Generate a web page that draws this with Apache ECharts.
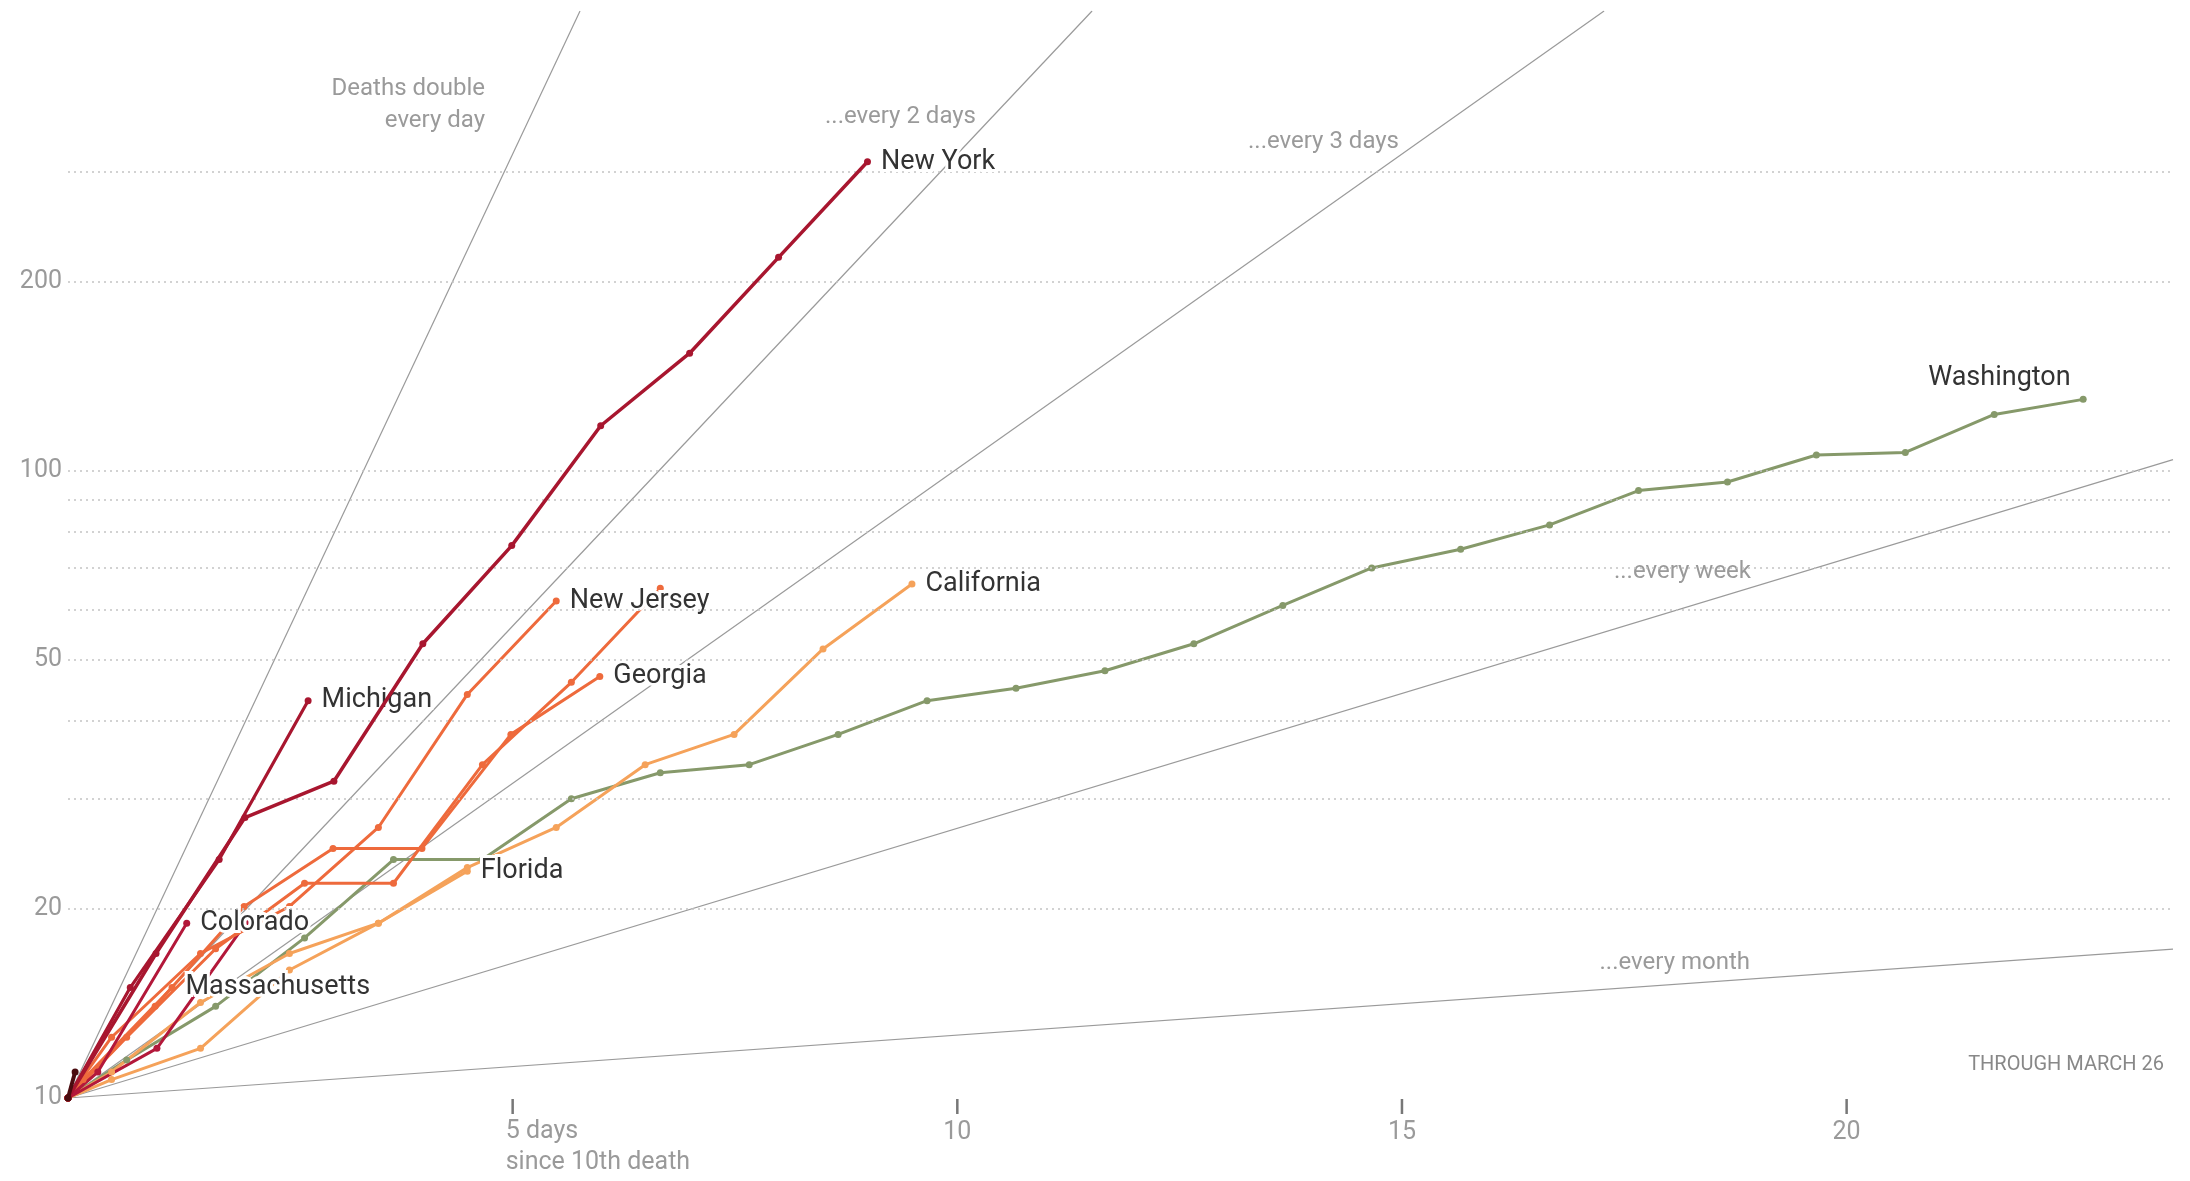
<!DOCTYPE html>
<html>
<head>
<meta charset="utf-8">
<script src="https://cdn.jsdelivr.net/npm/echarts@6/dist/echarts.min.js"></script>
<style>
html,body{margin:0;padding:0;background:#fff;}
#chart{width:2190px;height:1181px;}
</style>
</head>
<body>
<div id="chart"></div>
<script>
// ---------- axis / tick data ----------
const X_MAX = 23.67;            // days since 10th death shown
const Y_MIN = 10, Y_MAX = 541;  // deaths (log scale)
const yGridValues  = [20, 30, 40, 50, 60, 70, 80, 90, 100, 200, 300];
const yLabelValues = [10, 20, 50, 100, 200];
const xTickValues  = [5, 10, 15, 20];
const xLabelValues = [10, 15, 20];
const doublingDays   = [1, 2, 3, 7, 30];
const doublingLabels = ['Deaths double\nevery day', '...every 2 days', '...every 3 days', '...every week', '...every month'];
const noteText = 'THROUGH MARCH 26';
const firstAxisLabel = '5 days\nsince 10th death';

// ---------- state series: offset of first daily point (days) + daily deaths ----------
const newYorkOffset = 0.99;
const newYork       = [17, 28, 32, 53, 76, 118, 154, 219, 311];
const michiganOffset = 0.70;
const michigan       = [15, 24, 43];
const coloradoOffset = 0.335;
const colorado       = [11, 19];
const darkRedOtherOffset = 1.0;
const darkRedOther       = [12, 19];
const massachusettsOffset = 0.17;
const massachusetts       = [10.7, 15];
const newJerseyOffset = 0.49;
const newJersey       = [12.5, 17, 20.2, 27, 44, 62];
const georgiaOffset = 0.98;
const georgia       = [14, 20.2, 25, 25, 38, 47];
const orangeOtherOffset = 0.66;
const orangeOther       = [12.5, 17.3, 22, 22, 34, 46, 65];
const floridaOffset = 0.49;
const florida       = [10.7, 12, 16, 19, 23];
const californiaOffset = 0.49;
const california       = [11, 14.2, 17, 19, 23.3, 27, 34, 38, 52, 66];
const washingtonOffset = 0.66;
const washington       = [11.5, 14, 18, 24, 24, 30, 33, 34, 38, 43, 45, 48, 53, 61, 70, 75, 82, 93, 96, 106, 107, 123, 130];
const latestOffset = 0.08;
const latest       = [11];

// ---------- styles ----------
const FONT = 'Roboto, "Noto Sans", "Liberation Sans", sans-serif';
const C_CRIMSON = '#a8162f', C_CRIMSON2 = '#b3183a', C_DARK = '#4a0c10';
const C_ORANGE = '#ee6a3c', C_LIGHT = '#f5a25a', C_GREEN = '#86996a';
const GRAY = '#9a9a9a';

const chart = echarts.init(document.getElementById('chart'), null, {renderer: 'canvas'});

function stateSeries(name, offset, values, color, width, labelCfg, z) {
  const data = [[0, 10]].concat(values.map((v, i) => [offset + i, v]));
  if (labelCfg) {
    const last = data[data.length - 1];
    data[data.length - 1] = {
      value: last,
      label: Object.assign({
        show: true, formatter: name, color: '#333', fontSize: 27, fontFamily: FONT,
        textBorderColor: '#fff', textBorderWidth: 6, position: 'right', distance: 10
      }, labelCfg)
    };
  }
  return {
    type: 'line', name, data, z: z || 3, animation: false,
    symbol: 'circle', symbolSize: 7, showSymbol: true, showAllSymbol: true,
    lineStyle: {color, width}, itemStyle: {color},
    emphasis: {disabled: true}, silent: true
  };
}

// doubling reference lines (start at 10 deaths on day 0)
const refSeries = doublingDays.map((d, i) => {
  const xTop = d * Math.log2(Y_MAX / Y_MIN);
  const xEnd = Math.min(X_MAX, xTop);
  const yEnd = Y_MIN * Math.pow(2, xEnd / d);
  const s = {
    type: 'line', data: [[0, Y_MIN], [xEnd, yEnd]], symbol: 'none', z: 1,
    lineStyle: {color: GRAY, width: 1.2}, animation: false, silent: true
  };
  if (i === 0) {
    s.markLine = {
      silent: true, symbol: 'none', animation: false,
      lineStyle: {color: '#c4c4c4', type: [2, 4], width: 1.5},
      label: {show: false},
      data: yGridValues.map(v => ({yAxis: v}))
    };
  }
  return s;
});

const series = refSeries.concat([
  stateSeries('Washington', washingtonOffset, washington, C_GREEN, 3, {position: 'left', distance: 9, offset: [0, -21]}),
  stateSeries('California', californiaOffset, california, C_LIGHT, 3, {}),
  stateSeries('Florida', floridaOffset, florida, C_LIGHT, 3, {}),
  stateSeries('Orange other', orangeOtherOffset, orangeOther, C_ORANGE, 3, null),
  stateSeries('Georgia', georgiaOffset, georgia, C_ORANGE, 3, {}),
  stateSeries('New Jersey', newJerseyOffset, newJersey, C_ORANGE, 3, {}, 4),
  stateSeries('Massachusetts', massachusettsOffset, massachusetts, C_ORANGE, 3, {}, 4),
  stateSeries('Dark red other', darkRedOtherOffset, darkRedOther, C_CRIMSON2, 3, null),
  stateSeries('Colorado', coloradoOffset, colorado, C_CRIMSON2, 3, {}, 4),
  stateSeries('Michigan', michiganOffset, michigan, C_CRIMSON, 3.2, {}, 5),
  stateSeries('New York', newYorkOffset, newYork, C_CRIMSON, 3.5, {}, 6),
  stateSeries('Latest', latestOffset, latest, C_DARK, 4, null, 7)
]);

chart.setOption({
  backgroundColor: '#fff',
  animation: false,
  grid: {left: 68, right: 17, top: 11, bottom: 83, containLabel: false},
  xAxis: {
    type: 'value', min: 0, max: X_MAX, interval: 5, offset: 0,
    axisLine: {show: false},
    splitLine: {show: false},
    axisTick: {show: false},
    axisLabel: {color: GRAY, fontSize: 25, fontFamily: FONT, margin: 22,
                formatter: v => (xLabelValues.indexOf(v) >= 0 ? String(v) : '')}
  },
  yAxis: {
    type: 'log', logBase: 10, min: Y_MIN, max: Y_MAX,
    axisLine: {show: false}, axisTick: {show: false}, axisLabel: {show: false}, splitLine: {show: false}
  },
  series: series
});

// annotation texts, y labels and x ticks placed through the axes' scales
const tick5 = chart.convertToPixel({xAxisIndex: 0}, 5);
const axisBottom = chart.convertToPixel({yAxisIndex: 0}, Y_MIN);
const annoStyle = (text, x, y, align, size, lh, vAlign, color) => ({
  type: 'text', x, y, silent: true, z: 2,
  style: {text, fill: color || GRAY, font: `${size || 24}px ${FONT}`, align: align || 'right',
          verticalAlign: vAlign || 'top', lineHeight: lh || 32}
});
const graphics = [
  annoStyle(doublingLabels[0], 485, 73, 'right', 24, 32),
  annoStyle(doublingLabels[1], 976, 101, 'right', 24),
  annoStyle(doublingLabels[2], 1399, 126, 'right', 24),
  annoStyle(doublingLabels[3], 1751, 556, 'right', 24),
  annoStyle(doublingLabels[4], 1750, 947, 'right', 24),
  annoStyle(noteText, 2164, 1053, 'right', 20, 24, 'top', '#888'),
  annoStyle(firstAxisLabel, tick5 - 7, axisBottom + 18, 'left', 25, 31)
];
yLabelValues.forEach(v => {
  const py = chart.convertToPixel({yAxisIndex: 0}, v);
  graphics.push(annoStyle(String(v), 62, py, 'right', 25, 30, 'middle'));
});
xTickValues.forEach(v => {
  const px = chart.convertToPixel({xAxisIndex: 0}, v);
  graphics.push({
    type: 'rect', silent: true, z: 100, zlevel: 1,
    shape: {x: px - 1.25, y: axisBottom + 1, width: 2.5, height: 15},
    style: {fill: '#777777', stroke: null}
  });
});
chart.setOption({graphic: {elements: graphics}});
</script>
</body>
</html>
